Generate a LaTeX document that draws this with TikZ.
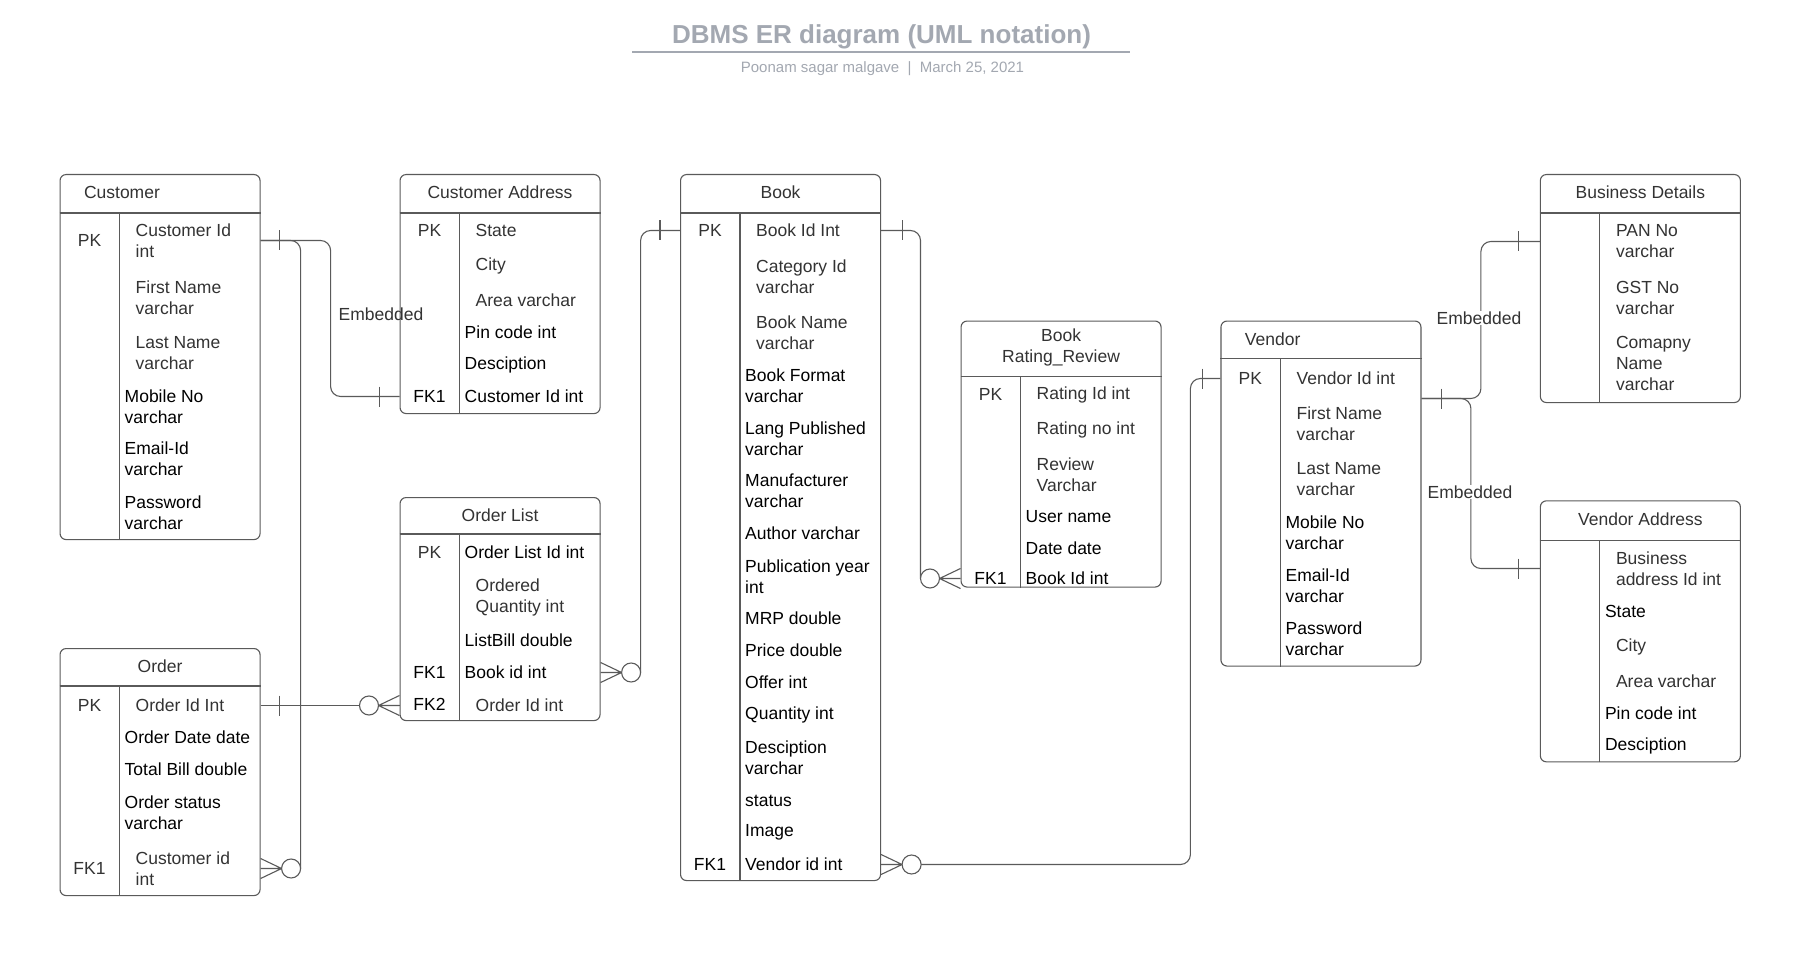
\documentclass[tikz,border=0pt]{standalone}
\usepackage{fontspec}
\setmainfont{Liberation Sans}
\usetikzlibrary{positioning, calc}

\definecolor{titlegray}{HTML}{A3A8B1}
\definecolor{linegray}{HTML}{5A5A5A}
\definecolor{textgray}{HTML}{333333}

\begin{document}
\begin{tikzpicture}[
    x=1pt, y=-1pt,
    every node/.style={font=\fontsize{17.5}{21}\selectfont},
    entbox/.style={rectangle, rounded corners=6pt, draw=linegray, line width=1.1pt, minimum width=200pt, inner sep=0pt, anchor=north west},
    entline/.style={draw=linegray, line width=1.1pt},
    enttitle/.style={text=textgray},
    keylbl/.style={text=textgray, inner sep=0pt, yshift=-1.5pt},
    fieldg/.style={text=textgray, anchor=west, align=left, inner sep=0pt, yshift=-1.5pt},
    fieldb/.style={text=black, anchor=west, align=left, inner sep=0pt, yshift=-1.5pt},
    conn/.style={draw=linegray, line width=1.1pt, rounded corners=10pt},
    emblabel/.style={text=textgray, fill=white, inner sep=1pt},
    onebar/.pic={\draw[conn] (0,-10) -- (0,10);},
    zmany/.pic={\draw[conn] (0,-10) -- (21,0) (0,0) -- (21,0) (0,10) -- (21,0);
                \draw[conn, fill=white] (30.5,0) circle[radius=9.5];}
]
\fill[white] (0,0) rectangle (1795,968);
\useasboundingbox (0,0) rectangle (1795,968);

% Titel
\node[font=\fontsize{26}{30}\selectfont\bfseries, text=titlegray] (title) at (881.5,36.5) {DBMS ER diagram (UML notation)};
\draw[titlegray, line width=2pt] (632,52.5) -- (1130,52.5);
\node[font=\fontsize{15}{18}\selectfont, text=titlegray] (subtitle) at (882.5,69) {Poonam sagar malgave~~|~~March 25, 2021};

% Entities
\node[entbox, minimum height=365pt] (cust) at (59.5,174) {};
\node[entbox, minimum height=239pt] (caddr) at (399.5,174) {};
\node[entbox, minimum height=223pt] (olist) at (399.5,497) {};
\node[entbox, minimum height=247pt] (order) at (59.5,648) {};
\node[entbox, minimum height=706pt] (book) at (680,174) {};
\node[entbox, minimum height=266pt] (brr) at (960.5,320.5) {};
\node[entbox, minimum height=345pt] (vend) at (1220.4,320.5) {};
\node[entbox, minimum height=228pt] (busdet) at (1539.8,174) {};
\node[entbox, minimum height=261pt] (vaddr) at (1539.8,500.3) {};

\foreach \e/\h in {cust/39pt, caddr/39pt, olist/37pt, order/38pt, book/39pt, brr/56pt, vend/38pt, busdet/39pt, vaddr/40pt} {
  \draw[entline] ([yshift=-\h]\e.north west) -- ([yshift=-\h]\e.north east);
  \draw[entline] ([xshift=60pt, yshift=-\h]\e.north west) -- ([xshift=60pt]\e.south west);
}

\node[enttitle, anchor=west] (cust-t) at ([xshift=21pt, yshift=-18pt]cust.north west) {Customer};
\node[enttitle] (caddr-t) at ([yshift=-18pt]caddr.north) {Customer Address};
\node[enttitle] (olist-t) at ([yshift=-18pt]olist.north) {Order List};
\node[enttitle] (order-t) at ([yshift=-18pt]order.north) {Order};
\node[enttitle] (book-t) at ([yshift=-18pt]book.north) {Book};
\node[enttitle, align=center] (brr-t) at ([yshift=-26.5pt]brr.north) {Book\\Rating\_Review};
\node[enttitle, anchor=west] (vend-t) at ([xshift=21pt, yshift=-18.5pt]vend.north west) {Vendor};
\node[enttitle] (busdet-t) at ([yshift=-18pt]busdet.north) {Business Details};
\node[enttitle] (vaddr-t) at ([yshift=-19pt]vaddr.north) {Vendor Address};

% Customer
\node[keylbl] (cust-k1) at (89.5,239) {PK};
\node[fieldg] (cust-id) at (135.5,239) {Customer Id\\int};
\foreach \y/\txt in {296/{First Name\\varchar}, 352/{Last Name\\varchar}}
  \node[fieldg] at (135.5,\y) {\txt};
\foreach \y/\txt in {405/{Mobile No\\varchar}, 457/{Email-Id\\varchar}, 511/{Password\\varchar}}
  \node[fieldb] at (124.5,\y) {\txt};

% Customer Address
\node[keylbl] (caddr-k1) at (429.5,229) {PK};
\foreach \y/\txt in {229/State, 264/City, 299/Area varchar}
  \node[fieldg] at (475.5,\y) {\txt};
\foreach \y/\txt in {331/Pin code int, 363/Desciption}
  \node[fieldb] at (464.5,\y) {\txt};
\node[keylbl, text=black] (caddr-k2) at (429.5,395) {FK1};
\node[fieldb] (ca-fk) at (464.5,395) {Customer Id int};

% Order List
\node[keylbl] (olist-k1) at (429.5,551) {PK};
\node[fieldb] (ol-pk) at (464.5,551) {Order List Id int};
\node[fieldg] (ol-qty) at (475.5,596) {Ordered\\Quantity int};
\node[fieldb] (ol-bill) at (464.5,639) {ListBill double};
\node[keylbl, text=black] (olist-k2) at (429.5,671) {FK1};
\node[fieldb] (ol-fk1) at (464.5,671) {Book id int};
\node[keylbl, text=black] (olist-k3) at (429.5,703) {FK2};
\node[fieldg] (ol-fk2) at (475.5,704) {Order Id int};

% Order
\node[keylbl] (order-k1) at (89.5,704) {PK};
\node[fieldg] (ord-pk) at (135.5,704) {Order Id Int};
\foreach \y/\txt in {736/Order Date date, 768/Total Bill double, 811/{Order status\\varchar}}
  \node[fieldb] at (124.5,\y) {\txt};
\node[keylbl] (order-k2) at (89.5,867) {FK1};
\node[fieldg] (ord-fk) at (135.5,867) {Customer id\\int};

% Book
\node[keylbl] (book-k1) at (710,229) {PK};
\node[fieldg] (book-pk) at (756,229) {Book Id Int};
\foreach \y/\txt in {275/{Category Id\\varchar}, 331/{Book Name\\varchar}}
  \node[fieldg] at (756,\y) {\txt};
\foreach \y/\txt in {384/{Book Format\\varchar}, 437/{Lang Published\\varchar}, 489/{Manufacturer\\varchar},
    532/Author varchar, 575/{Publication year\\int}, 617/MRP double, 649/Price double, 681/Offer int,
    713/Quantity int, 756/{Desciption\\varchar}, 799/status, 831/Image}
  \node[fieldb] at (745,\y) {\txt};
\node[keylbl, text=black] (book-k2) at (710,863) {FK1};
\node[fieldb] (book-fk) at (745,863) {Vendor id int};

% Book Rating_Review
\node[keylbl] (brr-k1) at (990.5,393) {PK};
\foreach \y/\txt in {393/Rating Id int, 428/Rating no int, 473/{Review\\Varchar}}
  \node[fieldg] at (1036.5,\y) {\txt};
\foreach \y/\txt in {515/User name, 547/Date date}
  \node[fieldb] at (1025.5,\y) {\txt};
\node[keylbl, text=black] (brr-k2) at (990.5,577) {FK1};
\node[fieldb] (brr-fk) at (1025.5,577) {Book Id int};

% Vendor
\node[keylbl] (vend-k1) at (1250.4,377) {PK};
\node[fieldg] (vend-pk) at (1296.4,377) {Vendor Id int};
\foreach \y/\txt in {422/{First Name\\varchar}, 478/{Last Name\\varchar}}
  \node[fieldg] at (1296.4,\y) {\txt};
\foreach \y/\txt in {531/{Mobile No\\varchar}, 584/{Email-Id\\varchar}, 637/{Password\\varchar}}
  \node[fieldb] at (1285.4,\y) {\txt};

% Business Details
\node[fieldg] (bd-pan) at (1615.8,240) {PAN No\\varchar};
\node[fieldg] (bd-gst) at (1615.8,296) {GST No\\varchar};
\node[fieldg] (bd-name) at (1615.8,362) {Comapny\\Name\\varchar};

% Vendor Address
\node[fieldg] (va-bus) at (1615.8,567) {Business\\address Id int};
\node[fieldb] (va-state) at (1604.8,610) {State};
\node[fieldg] (va-city) at (1615.8,645) {City};
\node[fieldg] (va-area) at (1615.8,680) {Area varchar};
\node[fieldb] (va-pin) at (1604.8,712) {Pin code int};
\node[fieldb] (va-desc) at (1604.8,744) {Desciption};

% Beziehungen
\draw[conn] (cust.east |- cust-id) -- ++(70,0) |- (caddr.west |- ca-fk);
\pic at ([xshift=19pt]cust.east |- cust-id) {onebar};
\pic at ([xshift=-20pt]caddr.west |- ca-fk) {onebar};
\node[emblabel, fill=none] (emb1) at (381,314) {Embedded};

\draw[conn] (cust.east |- cust-id) -| ([xshift=40pt]order.east |- ord-fk);
\pic at (order.east |- ord-fk) {zmany};

\draw[conn] (order.east |- ord-pk) -- (olist.west |- ord-pk);
\pic at ([xshift=19pt]order.east |- ord-pk) {onebar};
\pic[xscale=-1] at (olist.west |- ord-pk) {zmany};

\draw[conn] ([xshift=40pt]olist.east |- ol-fk1) |- (book.west |- book-pk);
\pic at (olist.east |- ol-fk1) {zmany};
\pic at ([xshift=-20pt]book.west |- book-pk) {onebar};

\draw[conn] (book.east |- book-pk) -| ([xshift=-40pt]brr.west |- brr-fk);
\pic at ([xshift=21pt]book.east |- book-pk) {onebar};
\pic[xscale=-1] at (brr.west |- brr-fk) {zmany};

\draw[conn] ([xshift=40pt]book.east |- book-fk) -| ([xshift=-30pt]vend.west |- vend-pk) -- (vend.west |- vend-pk);
\pic at (book.east |- book-fk) {zmany};
\pic at ([xshift=-18pt]vend.west |- vend-pk) {onebar};

\coordinate (vend-emb) at ([yshift=-78pt]vend.north east);
\draw[conn] (vend-emb) -- ++(59.4,0) |- (busdet.west |- bd-pan);
\draw[conn] (vend-emb) -- ++(49.4,0) |- (vaddr.west |- va-bus);
\pic at ([xshift=20pt]vend-emb) {onebar};
\pic at ([xshift=-21pt]busdet.west |- bd-pan) {onebar};
\pic at ([xshift=-21pt]vaddr.west |- va-bus) {onebar};
\node[emblabel] (emb2) at (1479,318) {Embedded};
\node[emblabel] (emb3) at (1470,492) {Embedded};

\end{tikzpicture}
\end{document}
